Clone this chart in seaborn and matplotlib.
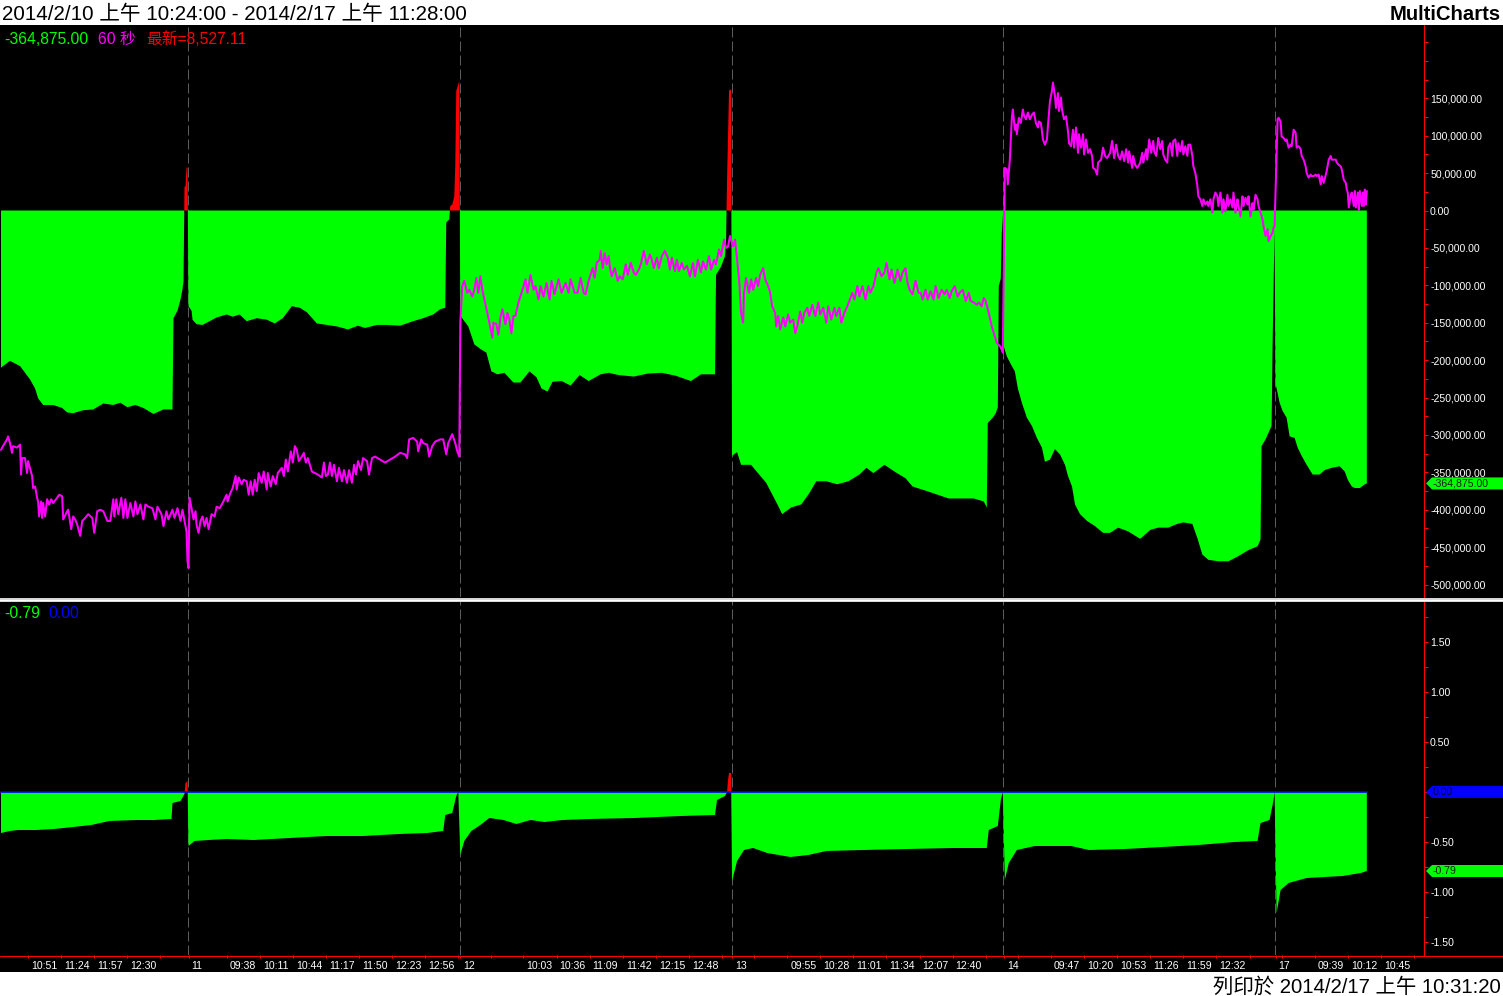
import numpy as np
import matplotlib
matplotlib.use("Agg")
import matplotlib.pyplot as plt
import matplotlib.transforms as mtransforms
from matplotlib.patches import Rectangle, Polygon
from matplotlib.lines import Line2D
from matplotlib.ticker import FuncFormatter, AutoMinorLocator
import seaborn as sns

# ---- sessions (1-minute bars, bar 0 = 2014/2/10 10:24) ----
session_day = ["10", "11", "12", "13", "14", "17"]
session_open = ["10:24", "09:00", "09:00", "09:00", "09:00", "09:00"]
session_bars = [187, 271, 271, 271, 271, 149]   # 2/17 runs to 11:28, data stops 10:31

time_labels = [
    ["10:51", "11:24", "11:57", "12:30"],
    ["09:38", "10:11", "10:44", "11:17", "11:50", "12:23", "12:56"],
    ["10:03", "10:36", "11:09", "11:42", "12:15", "12:48"],
    ["09:55", "10:28", "11:01", "11:34", "12:07", "12:40"],
    ["09:47", "10:20", "10:53", "11:26", "11:59", "12:32"],
    ["09:39", "10:12", "10:45"],
]
blank_ticks = [["13:03"], ["13:29"], ["09:31", "13:21"], ["09:22", "13:13"],
               ["09:14", "13:05"], ["09:06", "11:18"]]

# ---- upper panel: histogram (thousands) ----
net_x = [0, 9, 19, 24, 29, 34, 37, 42, 52, 61, 66, 72, 82, 92, 102, 112, 119, 126, 134, 142, 152, 162, 171,
         172, 176, 179, 181, 182, 183, 184, 185, 186,
         187, 190, 191, 195, 201, 208, 215, 225, 231, 238, 245, 255, 265, 273, 281, 290, 298, 305, 315, 325,
         335, 346, 356, 363, 375, 385, 398, 411, 421, 431, 438, 443, 444, 447, 448, 450, 452, 453, 454, 457,
         458, 461, 466, 472, 479, 484, 489, 495, 502, 511, 518, 527, 534, 539, 545, 550, 559, 568, 577, 586,
         598, 606, 616, 631, 645, 659, 673, 688, 698, 712, 713, 718, 722, 723, 724, 725, 726, 728,
         729, 734, 738, 748, 756, 763, 770, 775, 779, 788, 798, 806, 813, 823, 834, 845, 856, 863, 870, 881,
         891, 902, 909, 923, 934, 945, 959, 970, 980, 983, 984, 989, 992, 994, 995, 997, 998, 999,
         1000, 1003, 1008, 1011, 1014, 1018, 1023, 1028, 1033, 1038, 1041, 1046, 1051, 1056, 1061, 1064,
         1068, 1071, 1076, 1083, 1091, 1099, 1106, 1114, 1124, 1136, 1146, 1154, 1164, 1173, 1179, 1188,
         1193, 1198, 1204, 1214, 1224, 1234, 1244, 1253, 1256, 1257, 1261, 1264, 1267, 1268, 1269, 1270,
         1271, 1273, 1275, 1278, 1282, 1285, 1290, 1293, 1297, 1302, 1308, 1315, 1320, 1327, 1335, 1340,
         1343, 1347, 1350, 1355, 1360, 1362]
net_k = [-210, -201, -208, -217, -226, -238, -251, -260, -260, -264, -270, -271, -267, -266, -258, -260, -257,
         -263, -260, -264, -272, -266, -266, -144, -134, -119, -105, -95, 32, 32, 57, 58,
         -128, -134, -146, -152, -153, -148, -143, -139, -142, -139, -148, -144, -146, -151, -144, -128, -130,
         -136, -151, -153, -155, -159, -154, -157, -153, -153, -154, -148, -144, -139, -132, -130, -16, -12,
         6, 8, 19, 60, 160, 173,
         -141, -146, -155, -179, -186, -190, -215, -219, -217, -230, -230, -215, -223, -238, -242, -229, -228,
         -234, -220, -228, -219, -217, -220, -222, -218, -217, -221, -228, -219, -219, -86, -75, -61, -40, 41,
         100, 160, 162,
         -328, -323, -340, -340, -353, -364, -382, -395, -406, -397, -393, -378, -362, -362, -366, -362, -353,
         -344, -351, -340, -349, -358, -369, -375, -380, -385, -385, -385, -389, -397, -284, -277, -271, -263,
         -101, -91, -30, -5,
         -182, -195, -208, -215, -238, -257, -277, -288, -304, -317, -336, -333, -319, -326, -340, -355, -369,
         -393, -406, -415, -422, -431, -431, -424, -429, -439, -427, -424, -424, -419, -417, -419, -438, -460,
         -467, -469, -469, -462, -454, -449, -440, -315, -306, -297, -288, -182, -101, -25,
         -232, -244, -257, -268, -277, -302, -304, -317, -328, -340, -353, -353, -347, -344, -342, -349, -360,
         -369, -371, -371, -366, -364.875]

# ---- upper panel: magenta line (thousands) ----
index_x = [0, 2, 6, 7, 9, 11, 12, 16, 19, 20, 21, 24, 26, 27, 31, 32, 34, 36, 37, 38,
           40, 41, 42, 44, 46, 48, 50, 52, 56, 58, 61, 62, 66, 67, 70, 72, 74, 76, 79, 81,
           84, 87, 91, 93, 96, 99, 102, 106, 109, 112, 113, 115, 117, 120, 122, 124, 126, 129, 132, 134,
           136, 139, 142, 144, 147, 151, 154, 156, 160, 162, 165, 167, 171, 173, 176, 179, 181, 183, 185, 186,
           187, 188, 189, 190, 192, 194, 195, 197, 199, 201, 203, 205, 207, 210, 213, 215, 218, 221, 225, 226,
           228, 231, 234, 235, 237, 240, 242, 245, 247, 249, 251, 253, 255, 257, 260, 262, 265, 266, 269, 271,
           274, 276, 280, 282, 284, 286, 289, 291, 293, 295, 297, 300, 302, 304, 306, 310, 313, 316, 320, 322,
           324, 326, 328, 330, 332, 335, 337, 340, 342, 345, 347, 350, 352, 354, 356, 359, 361, 365, 367, 370,
           373, 378, 383, 388, 393, 398, 403, 405, 407, 411, 415, 416, 419, 421, 425, 427, 430, 433, 438, 441,
           444, 446, 450, 453, 455, 457,
           458, 460, 462, 465, 467, 470, 472, 474, 476, 478, 480, 482, 485, 487, 490, 491, 494, 496, 498, 500,
           503, 505, 507, 509, 511, 513, 516, 520, 523, 525, 528, 531, 533, 536, 538, 541, 544, 547, 549, 552,
           556, 559, 563, 566, 568, 572, 575, 578, 581, 583, 586, 590, 592, 594, 597, 598, 600, 602, 604, 606,
           607, 609, 612, 615, 617, 620, 623, 625, 628, 631, 633, 636, 638, 641, 644, 647, 649, 651, 654, 656,
           659, 662, 665, 667, 669, 672, 674, 676, 679, 681, 684, 687, 690, 692, 695, 698, 700, 703, 706, 708,
           711, 713, 716, 718, 721, 723, 725, 727,
           730, 732, 734, 736, 738, 740, 741, 743, 746, 748, 750, 753, 755, 757, 760, 762, 765, 767, 769, 772,
           773, 775, 777, 780, 782, 785, 787, 790, 792, 794, 797, 799, 801, 804, 806, 809, 812, 815, 817, 820,
           823, 825, 828, 831, 833, 836, 838, 841, 844, 847, 849, 851, 854, 856, 859, 862, 865, 867, 870, 873,
           875, 878, 881, 883, 886, 888, 891, 894, 897, 899, 902, 904, 906, 909, 912, 915, 917, 919, 922, 924,
           927, 930, 932, 935, 938, 941, 943, 946, 948, 951, 954, 956, 959, 962, 965, 967, 970, 973, 975, 978,
           980, 982, 985, 988, 991, 993, 996, 998, 999,
           1001, 1003, 1004, 1006, 1008, 1009, 1011, 1012, 1013, 1015, 1017, 1019, 1020, 1022, 1024, 1026,
           1028, 1030, 1032, 1034, 1035, 1037, 1039, 1041, 1043, 1044, 1046, 1048, 1049, 1051, 1052, 1054,
           1055, 1057, 1058, 1060, 1062, 1064, 1065, 1067, 1069, 1070, 1072, 1074, 1075, 1077, 1079, 1080,
           1082, 1084, 1086, 1088, 1089, 1091, 1093, 1094, 1097, 1099, 1101, 1103, 1106, 1108, 1110, 1112,
           1114, 1116, 1118, 1120, 1122, 1124, 1125, 1128, 1129, 1131, 1133, 1134, 1136, 1138, 1139, 1142,
           1143, 1145, 1147, 1149, 1150, 1152, 1154, 1156, 1158, 1159, 1161, 1163, 1164, 1166, 1168, 1169,
           1171, 1173, 1174, 1176, 1178, 1179, 1181, 1183, 1184, 1186, 1188, 1189, 1191, 1193, 1194, 1196,
           1198, 1199, 1201, 1203, 1204, 1206, 1208, 1209, 1211, 1213, 1214, 1216, 1218, 1219, 1221, 1223,
           1224, 1226, 1228, 1229, 1231, 1233, 1234, 1236, 1238, 1239, 1241, 1243, 1244, 1246, 1248, 1249,
           1251, 1253, 1254, 1256, 1258, 1259, 1261, 1263, 1264, 1266, 1268, 1269, 1270,
           1273, 1274, 1276, 1277, 1279, 1281, 1282, 1284, 1286, 1287, 1289, 1291, 1292, 1294, 1296, 1297,
           1299, 1301, 1302, 1304, 1306, 1307, 1309, 1311, 1312, 1314, 1316, 1317, 1319, 1321, 1322, 1324,
           1326, 1327, 1329, 1331, 1332, 1334, 1336, 1337, 1339, 1341, 1342, 1343, 1344, 1346, 1347, 1349,
           1350, 1351, 1353, 1354, 1355, 1357, 1358, 1359, 1360, 1361, 1362]
index_k = [-320, -315, -306, -302, -311, -324, -315, -317, -313, -353, -331, -331, -351, -335, -355, -371,
           -369, -384, -389, -409, -389, -411, -391, -409, -386, -393, -386, -391, -384, -380, -382, -413,
           -402, -400, -426, -409, -413, -420, -435, -415, -411, -406, -411, -431, -402, -400, -402, -415,
           -415, -386, -409, -386, -406, -384, -411, -386, -411, -391, -409, -389, -406, -393, -413, -393,
           -396, -398, -413, -396, -406, -422, -402, -413, -400, -411, -398, -415, -400, -415, -429, -469,
           -478, -384, -391, -398, -413, -402, -420, -431, -415, -409, -422, -411, -426, -406, -409, -396,
           -398, -391, -380, -389, -380, -371, -355, -373, -357, -366, -360, -362, -380, -362, -380, -360,
           -375, -351, -364, -349, -373, -351, -369, -355, -366, -351, -344, -355, -333, -349, -322, -337,
           -315, -320, -335, -329, -324, -337, -331, -349, -351, -353, -357, -337, -355, -353, -337, -355,
           -340, -362, -344, -362, -347, -364, -347, -364, -340, -353, -335, -347, -331, -335, -353, -331,
           -329, -333, -337, -333, -329, -324, -326, -331, -306, -304, -309, -322, -306, -311, -313, -329,
           -315, -309, -306, -306, -326, -311, -299, -311, -322, -329,
           -150, -101, -94, -110, -106, -115, -106, -90, -110, -88, -106, -119, -137, -150, -170, -150, -152,
           -166, -143, -132, -152, -137, -146, -164, -141, -141, -123, -106, -92, -110, -86, -106, -101, -119,
           -101, -115, -97, -119, -94, -112, -92, -110, -97, -110, -92, -110, -110, -90, -110, -112, -94, -77,
           -90, -70, -66, -54, -77, -57, -72, -61, -74, -88, -77, -94, -88, -92, -72, -86, -70, -83, -86, -79,
           -72, -54, -72, -59, -66, -77, -63, -77, -61, -54, -63, -79, -63, -81, -66, -81, -70, -79, -74, -88,
           -70, -88, -66, -83, -68, -79, -61, -79, -66, -72, -52, -61, -39, -50, -48, -34,
           -48, -39, -66, -92, -137, -150, -110, -90, -110, -92, -106, -90, -101, -86, -77, -92, -101, -110,
           -128, -137, -155, -141, -159, -143, -155, -139, -150, -146, -164, -155, -135, -150, -137, -130,
           -141, -126, -141, -123, -139, -130, -150, -128, -146, -130, -141, -130, -150, -137, -128, -117,
           -110, -119, -101, -115, -101, -119, -101, -110, -101, -83, -77, -88, -83, -70, -92, -79, -97, -79,
           -94, -83, -77, -97, -106, -112, -94, -110, -110, -119, -106, -119, -108, -119, -101, -117, -106,
           -112, -106, -117, -108, -101, -115, -110, -106, -121, -110, -121, -123, -126, -123, -128, -117,
           -121, -137, -155, -168, -177, -181, -186, -190,
           57, 55, 35, 68, 124, 135, 108, 115, 102, 124, 117, 135, 128, 122, 131, 122, 128, 131, 117, 111,
           119, 117, 95, 88, 95, 113, 146, 160, 171, 153, 137, 157, 133, 151, 135, 122, 126, 106, 90, 86,
           108, 84, 111, 77, 102, 84, 102, 75, 95, 77, 82, 73, 57, 55, 48, 64, 68, 84, 73, 70,
           77, 93, 70, 88, 73, 68, 79, 66, 82, 64, 79, 57, 73, 61, 57, 59, 64, 77, 64, 82,
           68, 95, 77, 93, 79, 73, 97, 82, 93, 75, 68, 64, 84, 90, 73, 93, 95, 73, 90, 79,
           93, 75, 86, 73, 88, 88, 73, 59, 50, 33, 19, 15, 6, 15, 8, 12, 6, 15, -3, 15,
           24, 19, 6, 24, -3, 15, -1, 21, 6, 15, 4, 24, -3, 15, 6, -8, 19, 6, 17, 8,
           19, -8, 10, 1, 21, 15, 6, -3, -12, -21, -34, -25, -41, -34, -30, -23, -21,
           122, 124, 119, 99, 97, 93, 95, 84, 88, 86, 108, 104, 84, 86, 82, 73, 68, 59, 50, 44,
           48, 46, 46, 48, 46, 48, 35, 46, 37, 48, 53, 68, 73, 68, 68, 68, 64, 61, 59, 55,
           41, 37, 28, 24, 4, 21, 24, 6, 26, 4, 24, 1, 26, 6, 24, 6, 28, 8, 26]

# ---- lower panel: histogram + blue level ----
osc_x = [0, 9, 17, 35, 53, 72, 90, 108, 135, 153, 170, 171, 179, 183, 184, 186,
         187, 193, 207, 225, 252, 288, 325, 361, 397, 425, 441, 443, 450, 454, 456,
         458, 462, 469, 478, 487, 501, 514, 528, 542, 560, 587, 632, 678, 712, 714, 722, 724, 725, 726, 728,
         729, 734, 741, 750, 764, 787, 805, 823, 859, 904, 950, 983, 985, 994, 997, 999,
         1001, 1005, 1013, 1031, 1049, 1067, 1085, 1121, 1158, 1194, 1230, 1253, 1256, 1265, 1269, 1270,
         1272, 1276, 1284, 1302, 1320, 1338, 1356, 1362]
osc_v = [-0.41, -0.39, -0.38, -0.38, -0.37, -0.35, -0.33, -0.29, -0.28, -0.28, -0.27, -0.11, -0.09, -0.02,
         0.09, 0.11,
         -0.54, -0.49, -0.48, -0.47, -0.48, -0.46, -0.44, -0.44, -0.42, -0.41, -0.39, -0.23, -0.21, -0.04, 0.0,
         -0.63, -0.49, -0.39, -0.33, -0.26, -0.28, -0.32, -0.28, -0.30, -0.28, -0.27, -0.26, -0.24, -0.23,
         -0.08, -0.04, 0.0, 0.12, 0.19, 0.19,
         -0.89, -0.69, -0.58, -0.56, -0.61, -0.65, -0.63, -0.59, -0.58, -0.57, -0.56, -0.56, -0.38, -0.34,
         -0.08, 0.0,
         -0.88, -0.71, -0.58, -0.54, -0.54, -0.54, -0.58, -0.57, -0.55, -0.53, -0.50, -0.49, -0.31, -0.28,
         -0.08, 0.0,
         -1.21, -0.98, -0.91, -0.86, -0.85, -0.84, -0.81, -0.79]
blue_level = 0.0
last_price = 8527.11

GREEN, RED, MAGENTA, BLUE = "#00ff00", "#ff0000", "#ff00ff", "#0000ff"
CJK = ["Liberation Sans", "Noto Sans CJK TC", "DejaVu Sans"]

sns.set_theme(style="dark", rc={"axes.facecolor": "black", "figure.facecolor": "white"})
plt.rcParams["font.family"] = CJK

W, H = 1503, 996
fig = plt.figure(figsize=(W / 100, H / 100), dpi=100)


def fx(px):
    return px / W


def fy(py):
    return 1 - py / H


fig.add_artist(Rectangle((0, fy(972)), 1, fy(25) - fy(972), transform=fig.transFigure,
                         facecolor="black", edgecolor="none", zorder=-5))
ax1 = fig.add_axes([0, fy(597), fx(1424), fy(25) - fy(597)])
ax2 = fig.add_axes([0, fy(955), fx(1424), fy(601) - fy(955)], sharex=ax1)


def minutes(t):
    h, m = t.split(":")
    return int(h) * 60 + int(m)


session_start = np.concatenate([[0], np.cumsum(session_bars)[:-1]])

# upper panel
nx = np.array(net_x, dtype=float)
nv = np.array(net_k) * 1000
ax1.fill_between(nx, nv, 0, where=nv <= 0, interpolate=True, color=GREEN, lw=0, zorder=2)
ax1.fill_between(nx, nv, 0, where=nv >= 0, interpolate=True, color=RED, lw=0, zorder=2)
sns.lineplot(x=index_x, y=np.array(index_k) * 1000, ax=ax1, color=MAGENTA, lw=1.45,
             estimator=None, sort=False, zorder=3)

# lower panel
ox = np.array(osc_x, dtype=float)
ov = np.array(osc_v)
ax2.fill_between(ox, ov, 0, where=ov <= 0, interpolate=True, color=GREEN, lw=0, zorder=2)
ax2.fill_between(ox, ov, 0, where=ov >= 0, interpolate=True, color=RED, lw=0, zorder=2)
sns.lineplot(x=[ox[0], ox[-1]], y=[blue_level, blue_level], ax=ax2, color=BLUE, lw=1.2,
             estimator=None, sort=False, zorder=3)

for ax in (ax1, ax2):
    for s in session_start[1:]:
        ax.axvline(s - 0.5, color="#5c5c5c", lw=0.72, ls=(0, (10, 4)), zorder=1)
    ax.grid(False)
    ax.set_xlabel("")
    ax.set_ylabel("")
    for side in ("top", "left", "bottom"):
        ax.spines[side].set_visible(False)
    ax.spines["right"].set_color(RED)
    ax.spines["right"].set_linewidth(0.72)
    ax.yaxis.tick_right()
    ax.tick_params(axis="y", which="both", colors=RED, labelcolor="white", length=2.9, width=0.72,
                   labelsize=7.6, pad=1.5, right=True, left=False)

ax1.set_xlim(-1, 1419)
ax1.set_ylim(-516711, 248000)
ax1.set_yticks(np.arange(-500000, 150001, 50000))
ax1.yaxis.set_minor_locator(AutoMinorLocator(2))
ax1.yaxis.set_major_formatter(FuncFormatter(lambda v, p: f"{v:,.2f}"))
ax1.tick_params(axis="x", bottom=False, labelbottom=False)

ax2.set_ylim(-1.63, 1.91)
ax2.set_yticks([-1.5, -1.0, -0.5, 0.0, 0.5, 1.0, 1.5])
ax2.yaxis.set_minor_locator(AutoMinorLocator(2))
ax2.yaxis.set_major_formatter(FuncFormatter(lambda v, p: f"{v:.2f}"))

# x ticks: day starts + time labels
tick_pos, tick_txt = [], []
for d in range(len(session_day)):
    base = session_start[d] - minutes(session_open[d])
    if d > 0:
        tick_pos.append(session_start[d])
        tick_txt.append(session_day[d])
    for t in time_labels[d]:
        tick_pos.append(base + minutes(t))
        tick_txt.append(t)
    for t in blank_ticks[d]:
        tick_pos.append(base + minutes(t))
        tick_txt.append("")
ax2.set_xticks(tick_pos)
ax2.tick_params(axis="x", colors=RED, length=2.5, width=0.72, labelbottom=False, bottom=True)
lab_tr = mtransforms.blended_transform_factory(ax2.transData, ax2.transAxes) + \
    mtransforms.ScaledTranslation(3 / 100, -14 / 100, fig.dpi_scale_trans)
for p, t in zip(tick_pos, tick_txt):
    if t:
        ax2.text(p, 0, t, transform=lab_tr, color="white", fontsize=7.6, ha="left", va="baseline",
                 clip_on=False)

# frame lines
fig.add_artist(Line2D([0, 1], [fy(955.5)] * 2, transform=fig.transFigure, color=RED, lw=0.72))
fig.add_artist(Rectangle((0, fy(601.5)), 1, 3.5 / H, transform=fig.transFigure,
                         facecolor="#d4d4d4", edgecolor="none", zorder=4))
fig.add_artist(Line2D([0, 1], [fy(599.8)] * 2, transform=fig.transFigure, color="white", lw=0.9, zorder=5))

# value tags on the right scale
inv = fig.transFigure.inverted()


def value_tag(ax, value, text, face, txt):
    x0, y = ax.transData.transform((ax.get_xlim()[1], value))
    h = 6
    pts = [(x0 + 2, y), (x0 + 8, y + h), (W, y + h), (W, y - h), (x0 + 8, y - h)]
    fig.add_artist(Polygon(inv.transform(pts), closed=True, facecolor=face, edgecolor="none", zorder=6))
    tx, ty = inv.transform((x0 + 9, y))
    fig.text(tx, ty, text, color=txt, fontsize=7.6, ha="left", va="center", zorder=7)


value_tag(ax1, nv[-1], f"{nv[-1]:,.2f}", GREEN, "#1a1a1a")
value_tag(ax2, blue_level, f"{blue_level:.2f}", BLUE, "#000033")
value_tag(ax2, ov[-1], f"{ov[-1]:.2f}", GREEN, "#1a1a1a")

# header / legends / footer
fig.text(fx(2), fy(20), "2014/2/10 上午 10:24:00 - 2014/2/17 上午 11:28:00", fontsize=14.85,
         color="black", ha="left", va="baseline", family=CJK)
fig.text(fx(1501), fy(20), "MultiCharts", fontsize=14.6, weight="bold", color="black",
         ha="right", va="baseline")
fig.text(fx(4), fy(43.7), f"{nv[-1]:,.2f}", fontsize=11.3, color=GREEN, va="baseline")
fig.text(fx(98), fy(43.7), "60 秒", fontsize=11.3, color=MAGENTA, va="baseline", family=CJK)
fig.text(fx(146), fy(43.7), f"最新={last_price:,.2f}", fontsize=11.3, color=RED, va="baseline", family=CJK)
fig.text(fx(4), fy(618), f"{ov[-1]:.2f}", fontsize=11.3, color=GREEN, va="baseline")
fig.text(fx(48), fy(618), f"{blue_level:.2f}", fontsize=11.3, color=BLUE, va="baseline")
fig.text(fx(1501), fy(993), "列印於 2014/2/17 上午 10:31:20", fontsize=14.7, color="black",
         ha="right", va="baseline", family=CJK)

fig.savefig("out.png", dpi=100, facecolor="white")
